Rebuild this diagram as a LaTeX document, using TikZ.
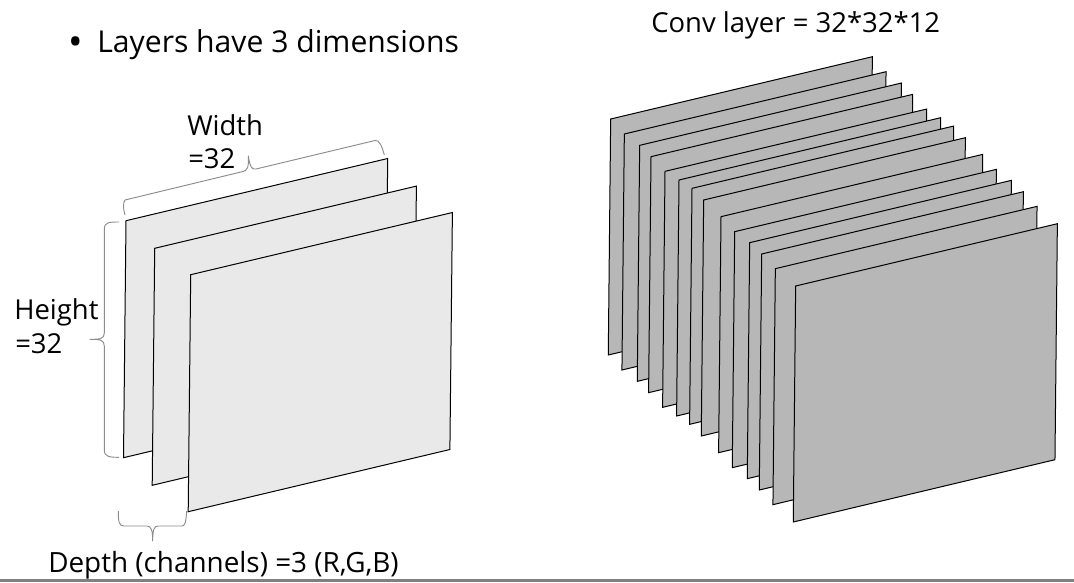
\documentclass[tikz,border=0pt]{standalone}
\usepackage{fontspec}
\setmainfont{Open Sans}
\tikzset{
  x=0.75pt,y=-0.75pt,
  sheetlight/.style={draw=black,line width=0.75pt,fill=light,line join=miter},
  sheetdark/.style={draw=black,line width=0.75pt,fill=dark,line join=miter},
  bracket/.style={draw=bracegray,line width=0.7pt,line join=round},
  lab/.style={anchor=base west,inner sep=0pt,text=black},
  biglab/.style={lab,font=\fontsize{22.6pt}{26pt}\selectfont},
  midlab/.style={lab,font=\fontsize{20.6pt}{24pt}\selectfont},
}
\definecolor{light}{HTML}{E9E9E9}
\definecolor{dark}{HTML}{B7B7B7}
\definecolor{bracegray}{HTML}{8C8C8C}
\definecolor{rulegray}{HTML}{808080}
\begin{document}
\begin{tikzpicture}
\useasboundingbox (0,0) rectangle (1074,582);
\fill[white] (0,0) rectangle (1074,582);
% light stack
\foreach \tlx/\tly in {126/220.7,154.7/248.3,190.7/274.7}{
  \draw[sheetlight] (\tlx,\tly) -- ++(261.7,-62.2) -- ++(-2.5,237) -- ++(-261.7,62.2) -- cycle;
}
% dark stack
\foreach \zx/\zy in {62/237,103/282,149/316,183/350,225/394,267/420,306/445,341/480,393/530,434/575,479/608,515/642,556/686,617/738}{
  \draw[sheetdark] ({590+\zx/3},{40+\zy/3}) -- ++(261.7,-62.3) -- ++(-2.4,236) -- ++(-261.7,62.3) -- cycle;
}
% braces
\draw[bracket] (125,215) .. controls (123,208) and (123,203) .. (125,200)
  -- (243,171.5) .. controls (247,170.5) and (249,168) .. (248.3,156)
  .. controls (250,167) and (252,170) .. (256,169)
  -- (375,140.5) .. controls (379,139.5) and (382,146) .. (384.3,155);
\draw[bracket] (119,222) .. controls (110,222) and (104.3,222) .. (104.3,229)
  -- (104.3,333) .. controls (104.3,339) and (100,339.3) .. (90,339.3)
  .. controls (100,339.3) and (104.3,340) .. (104.3,346)
  -- (104.3,450) .. controls (104.3,457) and (110,457.3) .. (119,457.3);
\draw[bracket] (118.3,511) .. controls (118.3,522) and (119,526) .. (124,526)
  -- (147,526) .. controls (151,526) and (152.7,530) .. (152.7,541)
  .. controls (152.7,530) and (154,526) .. (158,526)
  -- (182,526) .. controls (185,526) and (186,522) .. (186.7,511);
% bottom rule
\fill[rulegray] (0,579) rectangle (1074,582);
% labels
\node[lab,font=\fontsize{29pt}{32pt}\selectfont] (bullet) at (68,55) {•};
\node[biglab] (title) at (97,52) {Layers have 3 dimensions};
\node[midlab] (conv) at (651,32) {Conv layer = 32*32*12};
\node[midlab] (width) at (187,135) {Width};
\node[midlab] (widthval) at (188,168) {=32};
\node[midlab] (height) at (14,319) {Height};
\node[midlab] (heightval) at (15,353) {=32};
\node[midlab,font=\fontsize{20.9pt}{24pt}\selectfont] (depth) at (48,572) {Depth (channels) =3 (R,G,B)};
\end{tikzpicture}
\end{document}
